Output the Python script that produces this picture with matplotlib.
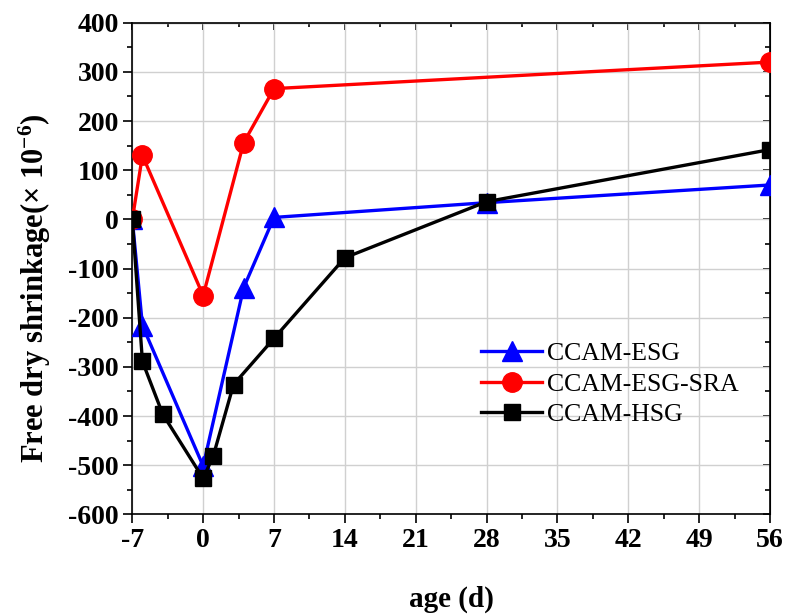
import matplotlib
matplotlib.use("Agg")
import matplotlib.pyplot as plt
from matplotlib.ticker import MultipleLocator

plt.rcParams['font.family'] = ['Liberation Serif', 'DejaVu Serif']
plt.rcParams['axes.unicode_minus'] = False
plt.rcParams['mathtext.fontset'] = 'custom'
plt.rcParams['mathtext.rm'] = 'Liberation Serif:bold'
plt.rcParams['mathtext.bf'] = 'Liberation Serif:bold'
plt.rcParams['mathtext.default'] = 'rm'

# Data
esg_age = [-7, -6, 0, 4, 7, 28, 56]
esg_val = [0, -216, -502, -139, 4, 34, 70]

sra_age = [-7, -6, 0, 4, 7, 56]
sra_val = [0, 130, -155, 156, 266, 320]

hsg_age = [-7, -6, -4, 0, 1, 3, 7, 14, 28, 56]
hsg_val = [0, -289, -396, -527, -481, -336, -242, -78, 36, 142]

x_ticks = [-7, 0, 7, 14, 21, 28, 35, 42, 49, 56]

fig = plt.figure(figsize=(7.88, 6.15), dpi=100)
ax = fig.add_axes([0.1679, 0.1637, 0.8093, 0.7993])

ax.plot(esg_age, esg_val, color='#0000ff', lw=2.4, marker='^', ms=15, label='CCAM-ESG', zorder=3)
ax.plot(sra_age, sra_val, color='#ff0000', lw=2.4, marker='o', ms=14, label='CCAM-ESG-SRA', zorder=3)
ax.plot(hsg_age, hsg_val, color='black', lw=2.4, marker='s', ms=12, label='CCAM-HSG', zorder=4)

ax.set_xlim(-7, 56)
ax.set_ylim(-600, 400)
ax.set_xticks(x_ticks)
ax.xaxis.set_minor_locator(MultipleLocator(3.5))
ax.yaxis.set_major_locator(MultipleLocator(100))
ax.yaxis.set_minor_locator(MultipleLocator(50))
ax.grid(True, which='major', color='#d0d0d0', lw=1.0)
ax.set_axisbelow(True)

ax.tick_params(which='both', direction='out', top=False, right=False, width=1.2)
ax.tick_params(which='major', length=6.5, pad=3)
ax.tick_params(which='minor', length=3.6)
for lbl in ax.get_xticklabels() + ax.get_yticklabels():
    lbl.set_fontweight('bold')
    lbl.set_fontsize(20)

sec_x = ax.secondary_xaxis('top')
sec_x.set_xticks(x_ticks)
sec_x.xaxis.set_minor_locator(MultipleLocator(3.5))
sec_x.tick_params(which='both', direction='in', labeltop=False, width=1.2)
sec_x.tick_params(which='major', length=5)
sec_x.tick_params(which='minor', length=3)
sec_y = ax.secondary_yaxis('right')
sec_y.yaxis.set_major_locator(MultipleLocator(100))
sec_y.yaxis.set_minor_locator(MultipleLocator(50))
sec_y.tick_params(which='both', direction='in', labelright=False, width=1.2)
sec_y.tick_params(which='major', length=5)
sec_y.tick_params(which='minor', length=3.6)

for sp in ax.spines.values():
    sp.set_linewidth(1.2)

ax.set_xlabel('age (d)', fontsize=21, fontweight='bold', labelpad=24)
ax.set_ylabel('Free dry shrinkage(\u00d7 10$^{-6}$)', fontsize=22, fontweight='bold')
ax.yaxis.set_label_coords(-0.125, 0.46)

ax.legend(loc='center left', bbox_to_anchor=(0.51, 0.265), frameon=False, fontsize=18.5,
          handlelength=2.4, handletextpad=0.2, labelspacing=0.3)

fig.savefig('out.png', dpi=100)
